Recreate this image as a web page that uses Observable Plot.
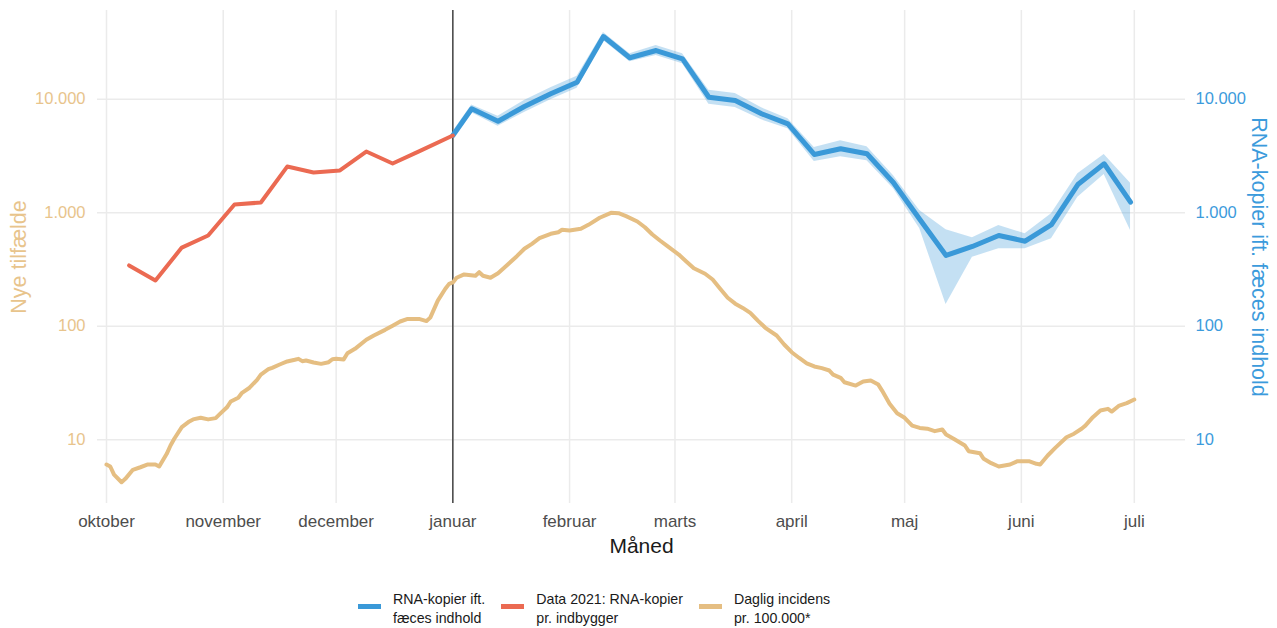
<!DOCTYPE html>
<html><head><meta charset="utf-8">
<script src="https://cdn.jsdelivr.net/npm/d3@7"></script>
<script src="https://cdn.jsdelivr.net/npm/@observablehq/plot@0.6"></script>
<style>
body{margin:0;background:#fff;font-family:"Liberation Sans",Arial,sans-serif;}
#wrap{position:relative;width:1277px;height:628px;overflow:hidden;}
#legend{position:absolute;left:358px;top:590px;display:flex;align-items:center;color:#1a1a1a;font-size:14.2px;line-height:18.5px;}
.it{display:flex;align-items:center;margin-right:16px;}
.sw{display:inline-block;width:23px;height:5px;margin-right:12px;position:relative;top:-2px;}
</style></head><body><div id="wrap"><div id="chart"></div><div id="legend"></div></div>
<script>
// Month ticks
const monthNames = ["oktober","november","december","januar","februar","marts","april","maj","juni","juli"];
const monthStarts = ["2021-10-01","2021-11-01","2021-12-01","2022-01-01","2022-02-01","2022-03-01","2022-04-01","2022-05-01","2022-06-01","2022-07-01"];
const yTicks = [10, 100, 1000, 10000];

// Daglig incidens pr. 100.000 (days since 1 Oct 2021)
const incDay = [0,1,2,4,5,7,9,11,13,14,16,17,18,20,22,23,25,27,29,30,32,33,35,36,38,40,41,43,44,46,48,50,51,52,53,55,57,59,60,61,63,64,66,69,71,74,76,78,80,83,85,86,88,90,91,92,93,95,98,99,100,102,104,106,109,111,113,115,118,120,121,123,126,128,131,134,136,138,141,143,145,147,149,152,154,156,159,161,163,165,167,169,171,173,175,178,180,182,184,186,188,190,192,193,195,196,199,201,203,205,206,208,210,212,214,216,218,220,222,223,225,228,229,232,233,235,237,240,242,245,247,248,250,252,255,257,259,260,262,264,266,267,269,271,273];
const incValue = [6.05,5.81,4.93,4.22,4.52,5.43,5.72,6.05,6.05,5.81,7.51,8.89,10.2,12.9,14.5,15.1,15.6,15.1,15.5,16.7,19.3,21.7,23.4,25.9,28.7,33.7,37.5,41.8,43.0,46.0,48.9,50.6,51.6,49.2,49.9,47.9,46.6,48.2,51.2,51.6,51.0,57.8,63.2,75.9,82.8,92.9,101,110,116,116,111,119,168,214,236,243,267,286,278,299,278,267,293,336,414,481,532,596,652,673,707,697,721,782,902,998,990,932,837,745,643,569,507,428,372,324,290,258,214,178,158,145,131,112,96.8,82.8,69.0,59.0,52.5,47.1,44.2,42.7,40.7,37.5,35.1,32.1,30.0,32.6,33.2,30.6,27.1,20.7,17.1,15.6,13.3,12.7,12.5,11.9,12.3,11.1,10.2,8.89,7.92,7.60,6.79,6.21,5.81,6.05,6.47,6.47,6.13,6.05,7.26,8.48,10.5,11.3,12.5,13.3,15.8,18.1,18.7,17.7,20.0,21.0,22.6];

// Data 2021: RNA-kopier pr. indbygger
const redDates = ["2021-10-07","2021-10-14","2021-10-21","2021-10-28","2021-11-04","2021-11-11","2021-11-18","2021-11-25","2021-12-02","2021-12-09","2021-12-16","2021-12-23","2022-01-01"];
const redValues = [343,253,493,630,1180,1230,2550,2260,2355,3460,2715,3470,4790];

// RNA-kopier ift. fæces indhold (with band)
const blueDates = ["2022-01-01","2022-01-06","2022-01-13","2022-01-20","2022-01-27","2022-02-03","2022-02-10","2022-02-17","2022-02-24","2022-03-03","2022-03-10","2022-03-17","2022-03-24","2022-03-31","2022-04-07","2022-04-14","2022-04-21","2022-04-28","2022-05-05","2022-05-12","2022-05-19","2022-05-26","2022-06-02","2022-06-09","2022-06-16","2022-06-23","2022-06-30"];
const blueValues = [4790,8230,6400,8620,11160,14120,35650,23170,26850,22700,10410,9740,7440,6070,3260,3655,3305,1845,877,420,504,630,561,787,1772,2698,1238];
const blueLow = [4430,7600,5780,7630,9880,12500,32900,21400,24250,20500,9030,8450,6580,5480,2830,3110,2870,1630,726,155,405,481,481,589,1370,2173,697];
const blueHigh = [5180,8900,7090,9740,12610,15950,38600,25100,29700,25100,12000,11230,8400,6720,3760,4300,3810,2128,1045,707,601,771,652,977,2203,3260,1820];

const C = {blue:"#3A99D8", red:"#EB6A52", tan:"#E5BE82", tanLabel:"#E8C48C", blueLabel:"#3C9BDC", grid:"#EBEBEB"};

const inc = incDay.map((d,i)=>({date:new Date(Date.UTC(2021,9,1+d)), value:incValue[i]}));
const red = redDates.map((d,i)=>({date:new Date(d), value:redValues[i]}));
const blue = blueDates.map((d,i)=>({date:new Date(d), value:blueValues[i], lo:blueLow[i], hi:blueHigh[i]}));
const months = monthStarts.map(d=>new Date(d));

const fmt = d3.formatLocale({decimal:",", thousands:".", grouping:[3], currency:["",""]}).format(",d");
const DAY = 864e5;
const xDomain = [new Date(Date.UTC(2021,9,1) - 2.39*DAY), new Date(Date.UTC(2021,9,1) + 286.6*DAY)];

const chart = Plot.plot({
  width: 1277, height: 570,
  marginLeft: 97, marginRight: 92, marginTop: 10, marginBottom: 67,
  style: {fontFamily: '"Liberation Sans", Arial, sans-serif', background: "#fff"},
  x: {type: "utc", domain: xDomain},
  y: {type: "log", domain: [Math.pow(10,0.438), Math.pow(10,4.7815)]},
  marks: [
    Plot.gridX(months, {stroke: C.grid, strokeOpacity: 1, strokeWidth: 1.5}),
    Plot.gridY(yTicks, {stroke: C.grid, strokeOpacity: 1, strokeWidth: 1.5}),
    Plot.axisY(yTicks, {anchor: "left", tickSize: 0, tickPadding: 12, tickFormat: fmt, fill: C.tanLabel, fontSize: 16.5, label: null}),
    Plot.axisY(yTicks, {anchor: "right", tickSize: 0, tickPadding: 10, tickFormat: fmt, fill: C.blueLabel, fontSize: 16.5, label: null}),
    Plot.axisX(months, {anchor: "bottom", tickSize: 0, tickPadding: 11, fontSize: 17, fill: "#4D4D4D", label: null,
      tickFormat: d => monthNames[months.findIndex(m => +m === +d)]}),
    Plot.ruleX([new Date("2022-01-01")], {stroke: "#1a1a1a", strokeWidth: 1.2}),
    Plot.areaY(blue, {x: "date", y1: "lo", y2: "hi", fill: C.blue, fillOpacity: 0.3}),
    Plot.line(blue, {x: "date", y: "value", stroke: C.blue, strokeWidth: 5}),
    Plot.line(red, {x: "date", y: "value", stroke: C.red, strokeWidth: 4}),
    Plot.line(inc, {x: "date", y: "value", stroke: C.tan, strokeWidth: 4}),
    Plot.text(["Nye tilfælde"], {frameAnchor: "left", textAnchor: "middle", rotate: -90, dx: -78, lineAnchor: "middle", fontSize: 21.5, fill: C.tanLabel}),
    Plot.text(["RNA-kopier ift. fæces indhold"], {frameAnchor: "right", textAnchor: "middle", rotate: 90, dx: 73, lineAnchor: "middle", fontSize: 21.5, fill: C.blueLabel}),
    Plot.text(["Måned"], {frameAnchor: "bottom", dy: 43, lineAnchor: "middle", fontSize: 21, fill: "#1a1a1a"})
  ]
});
document.getElementById("chart").appendChild(chart);

const legendItems = [
  {color: C.blue, lines: ["RNA-kopier ift.", "fæces indhold"]},
  {color: C.red, lines: ["Data 2021: RNA-kopier", "pr. indbygger"]},
  {color: C.tan, lines: ["Daglig incidens", "pr. 100.000*"]}
];
const lg = document.getElementById("legend");
legendItems.forEach(it => {
  const el = document.createElement("div"); el.className = "it";
  const sw = document.createElement("span"); sw.className = "sw"; sw.style.background = it.color;
  const tx = document.createElement("div"); tx.innerHTML = it.lines.join("<br>");
  el.appendChild(sw); el.appendChild(tx); lg.appendChild(el);
});
</script></body></html>
